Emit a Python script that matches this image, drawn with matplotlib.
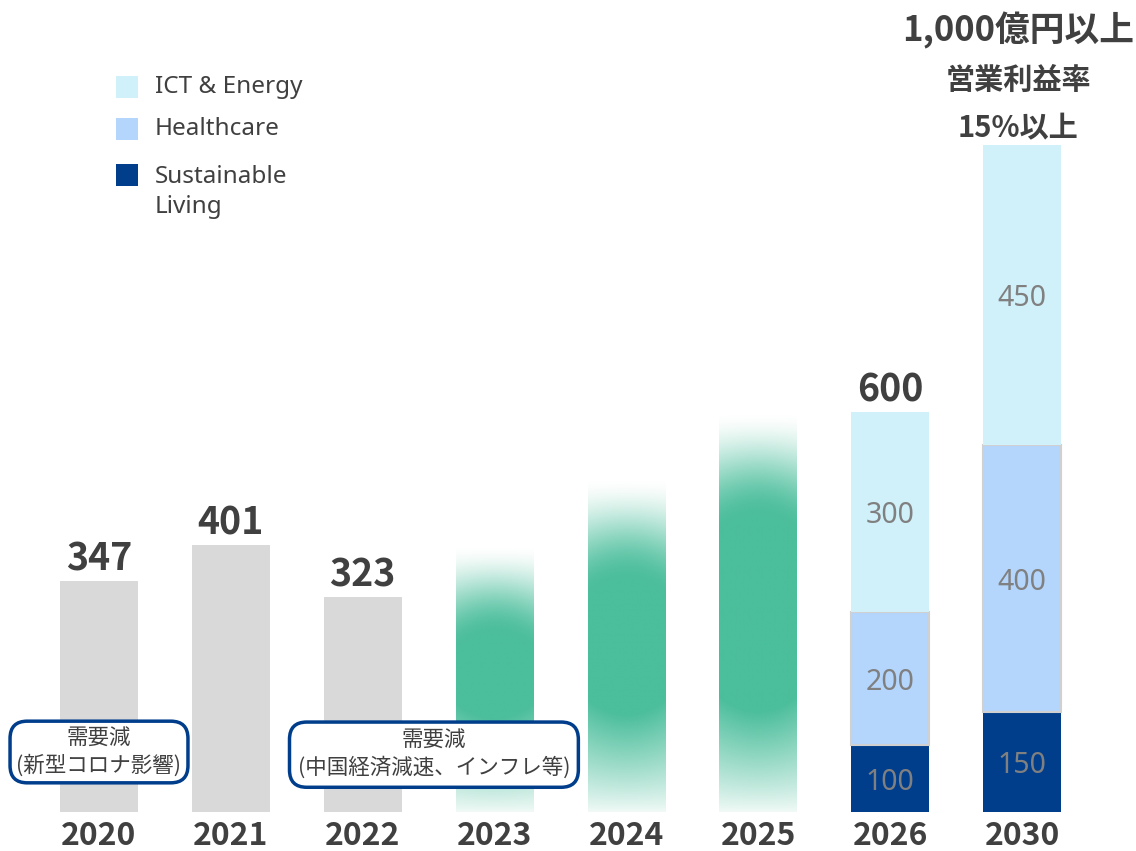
import numpy as np
import matplotlib
matplotlib.use("Agg")
import matplotlib.pyplot as plt
from matplotlib.patches import Rectangle
from matplotlib.colors import to_rgb

# ---------------- data ----------------
years = ['2020', '2021', '2022', '2023', '2024', '2025', '2026', '2030']
actual_values = [347, 401, 323]                 # 2020-2022
forecast_fade_top = [400, 500, 600]             # 2023-2025 faint upper end
forecast_core_top = [268, 348, 445]             # 2023-2025 solid part upper end
forecast_core_bottom = [140, 145, 150]          # 2023-2025 solid part lower end
segment_names = ['ICT & Energy', 'Healthcare', 'Sustainable\nLiving']
sustainable = [100, 150]                        # 2026, 2030
healthcare = [200, 400]
ict = [300, 450]
target_lines = ['1,000億円以上', '営業利益率', '15%以上']
note_2020 = '需要減\n(新型コロナ影響)'
note_2022 = '需要減\n(中国経済減速、インフレ等)'

# ---------------- style ----------------
W, H = 1136, 851
CJK = ['Noto Sans CJK JP', 'DejaVu Sans']
LAT = ['Noto Sans', 'Noto Sans CJK JP', 'DejaVu Sans']
plt.rcParams['font.family'] = CJK
grey_bar = '#D9D9D9'
green = '#4BBE9B'
c_ict = '#D0F0FA'
c_hc = '#B4D5FC'
c_sus = '#003E8C'
dark = '#404040'
seg_txt = '#808080'
bw = 0.59

fig = plt.figure(figsize=(W / 100, H / 100), dpi=100)
ax = fig.add_axes([0, 0, 1, 1])
ax.axis('off')
xs = np.arange(len(years))

# actual bars
for i, v in enumerate(actual_values):
    ax.bar(xs[i], v, width=bw, color=grey_bar, zorder=2)
    ax.text(xs[i], v + 3, f'{v}', ha='center', va='bottom', fontsize=27,
            fontweight='bold', color=dark, zorder=5)

# forecast gradient bars
rgb = np.array(to_rgb(green))
for k, (ft, ct, cb) in enumerate(zip(forecast_fade_top, forecast_core_top, forecast_core_bottom)):
    i = 3 + k
    ny, nx = 400, 60
    yv = np.linspace(0, ft + 15, ny)
    u = np.linspace(-1, 1, nx)
    Y, U = np.meshgrid(yv, u, indexing='ij')
    bulge = 22 * (1 - U ** 2)
    T = ct - 22 + bulge
    B = cb + 22 - bulge
    a = np.ones_like(Y)
    up = Y > T
    s = np.clip((ft - Y) / (ft - T), 0, 1)
    s = s * s * (3 - 2 * s)
    a[up] = (s ** 0.9)[up]
    lo = Y < B
    t = np.clip(Y / B, 0, 1)
    a[lo] = (0.08 + 0.92 * t ** 0.9)[lo]
    img = np.zeros((ny, nx, 4))
    img[..., :3] = rgb
    img[..., 3] = a
    ax.imshow(img, extent=[i - bw / 2, i + bw / 2, 0, ft + 15], origin='lower',
              aspect='auto', interpolation='bilinear', zorder=2)

# stacked plan bars
px = xs[6:]
ax.bar(px, sustainable, width=bw, color=c_sus, zorder=2)
ax.bar(px, healthcare, width=bw, bottom=sustainable, color=c_hc,
       edgecolor='#D0D0D0', linewidth=1.5, zorder=2)
bot2 = [a_ + b_ for a_, b_ in zip(sustainable, healthcare)]
ax.bar(px, ict, width=bw, bottom=bot2, color=c_ict, zorder=2)
off = -5
for j, x in enumerate(px):
    ax.text(x, sustainable[j] / 2 + off, f'{sustainable[j]}',
            ha='center', va='center', fontsize=20.5, color=seg_txt, family=LAT, zorder=5)
    ax.text(x, sustainable[j] + healthcare[j] / 2 + off, f'{healthcare[j]}',
            ha='center', va='center', fontsize=20.5, color=seg_txt, family=LAT, zorder=5)
    ax.text(x, bot2[j] + ict[j] / 2 + off, f'{ict[j]}',
            ha='center', va='center', fontsize=20.5, color=seg_txt, family=LAT, zorder=5)
total_2026 = sustainable[0] + healthcare[0] + ict[0]
ax.text(px[0], total_2026 + 3, f'{total_2026}', ha='center', va='bottom', fontsize=27,
        fontweight='bold', color=dark, zorder=5)

# year labels
for i, y in enumerate(years):
    ax.text(xs[i], -36, y, ha='center', va='center', fontsize=23,
            fontweight='bold', color=dark)

# target annotation (pixel positions)
def fy(py):
    return 1 - py / H

ax.text(1018 / W, fy(30), target_lines[0], transform=ax.transAxes, ha='center',
        va='center', fontsize=25, fontweight='bold', color=dark)
ax.text(1019 / W, fy(80), target_lines[1], transform=ax.transAxes, ha='center',
        va='center', fontsize=21, fontweight='bold', color=dark)
ax.text(1018 / W, fy(128), target_lines[2], transform=ax.transAxes, ha='center',
        va='center', fontsize=21, fontweight='bold', color=dark)

# legend
leg_cols = [c_ict, c_hc, c_sus]
leg_y = [87, 129, 175]
text_y = [87, 129, 192]
for name, c, py, ty in zip(segment_names, leg_cols, leg_y, text_y):
    ax.add_patch(Rectangle((116 / W, fy(py + 11)), 22 / W, 22 / H, transform=ax.transAxes,
                           facecolor=c, edgecolor='none'))
    ax.text(155 / W, fy(ty), name, transform=ax.transAxes, ha='left', va='center',
            fontsize=17.5, color=dark, family=LAT, linespacing=1.35)

# notes
ax.text(0.0, 90, note_2020, ha='center', va='center', fontsize=15.5, color=dark,
        linespacing=1.25, zorder=6,
        bbox=dict(boxstyle='round,pad=0.3,rounding_size=0.8', facecolor='white',
                  edgecolor=c_sus, linewidth=2.5))
ax.text(2.54, 86, note_2022, ha='center', va='center', fontsize=15.5, color=dark,
        linespacing=1.25, zorder=6,
        bbox=dict(boxstyle='round,pad=0.38,rounding_size=0.8', facecolor='white',
                  edgecolor=c_sus, linewidth=2.5))

ax.set_xlim(-99 / 131.86, (W - 99) / 131.86)
ax.set_ylim(-39 / (400 / 600), 812 / (400 / 600))
fig.savefig('out.png', dpi=100)
